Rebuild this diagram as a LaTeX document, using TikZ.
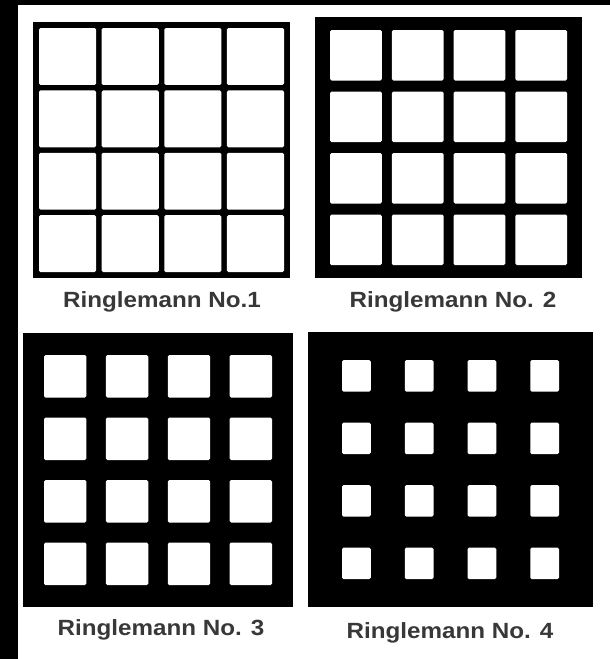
\documentclass[tikz,border=0pt]{standalone}
\usepackage{fontspec}
\setmainfont{Liberation Sans}
\newcommand{\rpanel}[8]{%
  \fill[black] (#1,#2) rectangle (#3,#4);
  \pgfmathsetmacro\rsx{(#3-#1-2*#5-3*#7)/4}
  \pgfmathsetmacro\rsy{(#4-#2-2*#6-3*#8)/4}
  \foreach \i in {0,...,3}{\foreach \j in {0,...,3}{
    \fill[white,rounded corners=1.5pt] ({#1+#5+\i*(\rsx+#7)},{#2+#6+\j*(\rsy+#8)}) rectangle ++(\rsx,\rsy);}}
}
\tikzset{lab/.style={anchor=base,text=black!78,font=\fontsize{22}{22}\selectfont\bfseries,inner sep=0pt,xscale=1.1}}
\begin{document}
\begin{tikzpicture}[x=1pt,y=-1pt]
\useasboundingbox (0,0) rectangle (610,659);
\fill[white] (0,0) rectangle (610,659);
% black frame strips
\fill[black] (0,0) rectangle (18,659);
\fill[black] (0,0) rectangle (610,5);
% panels
\rpanel{33}{22}{290}{278}{6}{6}{5.5}{5.5}
\rpanel{315}{17}{582}{278}{15}{13}{10}{11}
\rpanel{23}{333}{293}{607}{21}{22}{19.5}{20}
\rpanel{308}{332}{593}{607}{34}{28}{34}{31}
% labels
\node[lab] (l1) at (162,307) {Ringlemann No.1};
\node[lab] (l2) at (453,307) {Ringlemann No. 2};
\node[lab] (l3) at (161,635) {Ringlemann No. 3};
\node[lab] (l4) at (450,638) {Ringlemann No. 4};
\end{tikzpicture}
\end{document}
